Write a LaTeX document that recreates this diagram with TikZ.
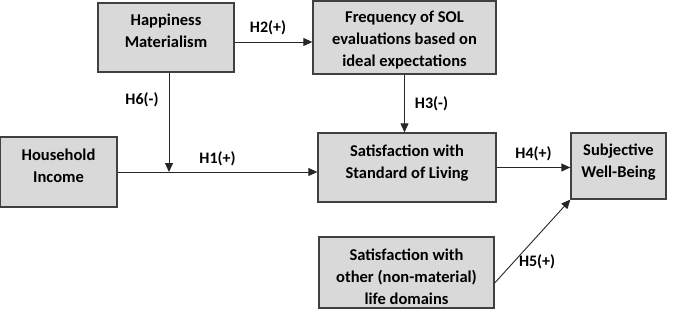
\documentclass[tikz,border=0pt]{standalone}
\usepackage{fontspec}
\setmainfont{Carlito}
\usepackage{tikz}
\usetikzlibrary{arrows.meta, positioning, calc}

\definecolor{boxfill}{HTML}{D9D9D9}
\definecolor{boxline}{HTML}{404040}

\begin{document}
\begin{tikzpicture}[
    x=1pt, y=-1pt,
    box/.style={rectangle, draw=boxline, line width=1.3pt, fill=boxfill, inner sep=0pt},
    boxtext/.style={align=center, inner sep=0pt, font=\fontsize{16.5}{22}\selectfont\bfseries},
    arr/.style={-{Triangle[length=9pt, width=8pt]}, line width=0.9pt, draw=black!85},
    hyp/.style={font=\fontsize{16}{18}\selectfont\bfseries, inner sep=2pt},
]
    \useasboundingbox (0,0) rectangle (685,309);

    % ── Boxes ──
    \node[box, minimum width=136, minimum height=69] (hm) at (166, 37.5) {};
    \node[boxtext] (hm-t) at ($(hm)+(0,-6.5)$) {Happiness\\Materialism};

    \node[box, minimum width=183, minimum height=73] (freq) at (404.5, 37.5) {};
    \node[boxtext] (freq-t) at ($(freq)+(0,2.5)$)
        {Frequency of SOL\\evaluations based on\\ideal expectations};

    \node[box, minimum width=117, minimum height=70] (hi) at (58.5, 172) {};
    \node[boxtext] (hi-t) at ($(hi)+(0,-6.5)$) {Household\\Income};

    \node[box, minimum width=178, minimum height=69] (sol) at (407, 167.5) {};
    \node[boxtext] (sol-t) at ($(sol)+(0,-4.5)$) {Satisfaction with\\Standard of Living};

    \node[box, minimum width=95, minimum height=66] (swb) at (618.5, 166) {};
    \node[boxtext] (swb-t) at ($(swb)+(0,-3.5)$) {Subjective\\Well-Being};

    \node[box, minimum width=175, minimum height=71] (other) at (406.5, 272.5) {};
    \node[boxtext] (other-t) at ($(other)+(0,4.5)$)
        {Satisfaction with\\other (non-material)\\life domains};

    % ── Paths ──
    \coordinate (h2s) at ([yshift=-4.5pt]hm.east);
    \draw[arr] (h2s) -- (h2s -| freq.west)
        node[hyp, pos=0.43, above=5pt] {H2(+)};
    \draw[arr] (hi.east) -- (hi.east -| sol.west)
        node[hyp, midway, above=4pt] {H1(+)};
    \coordinate (h6s) at ([xshift=3pt]hm.south);
    \coordinate (mod) at (h6s |- hi.east);
    \draw[arr] (h6s) -- (mod)
        node[hyp, pos=0.27, left=8pt] {H6(-)};
    \draw[arr] (freq.south) -- (freq.south |- sol.north)
        node[hyp, midway, right=8pt] {H3(-)};
    \draw[arr] (sol.east) -- (sol.east -| swb.west)
        node[hyp, midway, above=4pt] {H4(+)};
    \coordinate (h5s) at ([yshift=-10.5pt]other.east);
    \draw[arr] (h5s) -- (swb.south west)
        node[hyp, pos=0.25, right=3pt] {H5(+)};

\end{tikzpicture}
\end{document}
